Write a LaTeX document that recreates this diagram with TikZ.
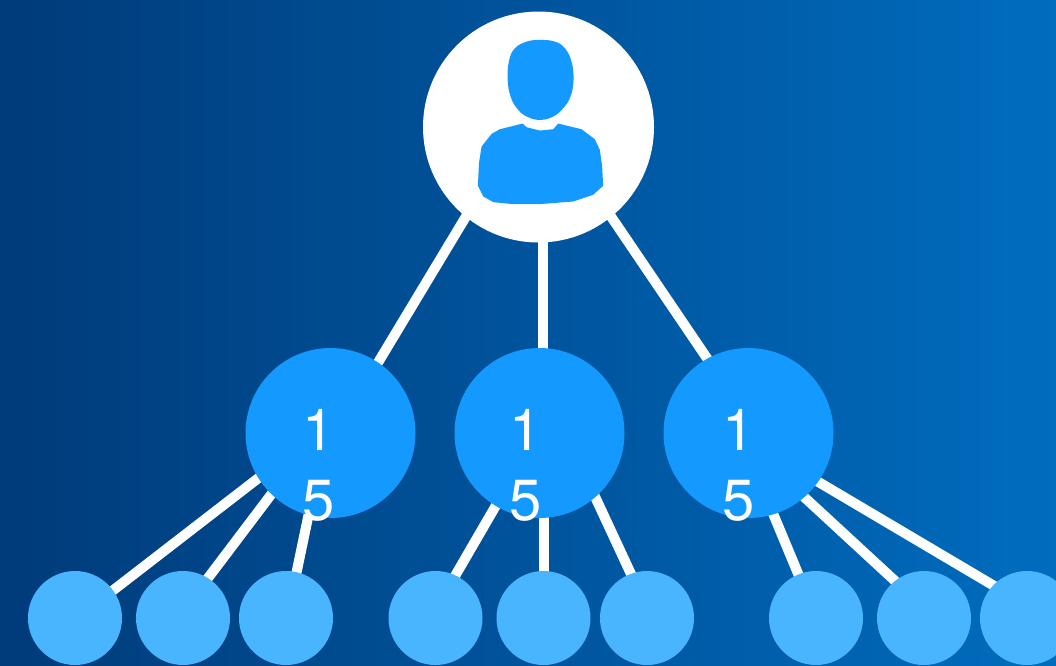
\documentclass[tikz,border=0pt]{standalone}
\usepackage{fontspec}
\setmainfont{TeX Gyre Heros}
\usetikzlibrary{backgrounds}
\definecolor{bgleft}{HTML}{003B7A}
\definecolor{bgright}{HTML}{006CBE}
\definecolor{midblue}{HTML}{1499FF}
\definecolor{leafblue}{HTML}{4AB5FF}
\tikzset{
  rootnode/.style={circle, fill=white, inner sep=0, outer sep=0, minimum size=231},
  midnode/.style={circle, fill=midblue, inner sep=0, outer sep=0, minimum size=170},
  leafnode/.style={circle, fill=leafblue, inner sep=0, outer sep=0, minimum size=94},
  numtext/.style={text=white, inner sep=0, align=center, font=\fontsize{58}{70}\selectfont},
  link/.style={draw=white, line width=10, shorten <=-5, shorten >=-5},
}
\begin{document}
\begin{tikzpicture}[x=1pt, y=-1pt]
\useasboundingbox (0,0) rectangle (1056,665);
\clip (0,0) rectangle (1056,665);
\begin{pgfonlayer}{background}
\shade[left color=bgleft, right color=bgright] (0,0) rectangle (1056,665);
\end{pgfonlayer}

\node[rootnode] (root) at (538.5,127) {};
% middle row
\foreach \n/\x in {a/330.5, b/539.5, c/748.5}
  \node[midnode] (\n) at (\x,433) {};
\node[numtext] (texta) at (318.5,465) {1\\5};
\node[numtext] (textb) at (525.5,465) {1\\5};
\node[numtext] (textc) at (738.5,465) {1\\5};
% bottom row
\foreach \n/\x in {a1/75, a2/183, a3/286, b1/435.5, b2/543.5, b3/647, c1/816, c2/924, c3/1027}
  \node[leafnode] (\n) at (\x,618) {};

% person icon
\begin{scope}[shift={(420,0)}, x=0.333pt, y=-0.333pt]
\fill[midblue] plot[smooth cycle, tension=0.7] coordinates {(362,120) (405,125) (435,145) (455,185) (461,240) (452,290) (430,325) (400,350) (362,360) (325,352) (295,330) (272,290) (263,235) (268,180) (285,145) (320,125)};
\fill[midblue] (308,371) -- (320,382) -- (360,392) -- (400,388) -- (415,371) -- (485,388) -- (525,418) -- (540,450) -- (547,500) -- (550,558) -- (520,585) -- (460,605) -- (360,613) -- (280,613) -- (220,607) -- (190,590) -- (174,558) -- (177,490) -- (185,440) -- (215,402) -- (240,388) -- cycle;
\end{scope}

\begin{pgfonlayer}{background}
\draw[link] (root.231.3) -- (a.56.2);
\draw[link] (root.272) -- (root.272 |- b.north);
\draw[link] (root.309.1) -- (c.119.5);
\foreach \s/\t/\p/\q in {a/a1/212.5/36.4, a/a2/226.5/58.6, a/a3/255/77.7, b/b1/239.2/65.1, b/b3/311/110.4, c/c1/287/112, c/c2/311.4/128, c/c3/325/136}
  \draw[link] (\s.\p) -- (\t.\q);
\draw[link] (b2.north) -- (b2.north |- b.south);
\end{pgfonlayer}
\end{tikzpicture}
\end{document}
